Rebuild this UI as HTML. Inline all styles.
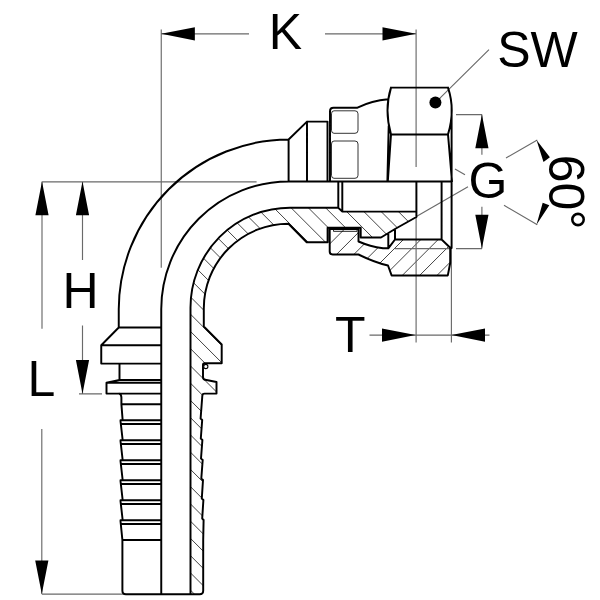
<!DOCTYPE html>
<html lang="en"><head><meta charset="utf-8"><title>Hose fitting drawing</title>
<style>html,body{margin:0;padding:0;background:#fff;width:600px;height:600px;overflow:hidden}</style>
</head><body>
<svg width="600" height="600" viewBox="0 0 600 600" style="display:block;position:absolute;left:0;top:0;will-change:transform">
<defs>
<clipPath id="cb"><path d="M190.5,594.2 V307.5 A99.5,99.8 0 0 1 290,207.7 H338.3 L342.3,211.6 H416.4 V217 L395,229 L381,237.5 H360.7 V227.8 H327.6 V242.2 H306.7 L288.5,223.7 A84.7,84.7 0 0 0 203.8,308.4 V326.5 L221.7,344.5 V363.3 H204.5 Q203,363.3 203,365 V377.3 Q203,380 206.5,380 L216.5,382 V393.6 H204.5 Q202.3,393.6 202.3,396 L200.6,418.5 L202.2,420 L200.8,438.5 L202.4,440 L201,458.5 L202.7,460 L201.3,478.5 L203,480 L201.8,498.5 L203.4,500 L202.2,518.5 L203.6,520 L203.2,540 V590.7 Q203.2,594.2 199.7,594.2 Z"/></clipPath>
<clipPath id="cn"><path d="M329.7,229 H358.5 V241.5 Q370,246.5 383,248.3 H388.3 L395,239.5 H441.6 L450.2,247.8 V263 L447.8,275.4 H391.6 L388,265.5 Q375,262.5 358.5,254.5 H332.7 Q329.7,254.5 329.7,251.5 Z"/></clipPath>
</defs>
<rect width="600" height="600" fill="#fff"/>
<path d="M150,-71.30 L460,238.70 M150,-54.05 L460,255.95 M150,-36.80 L460,273.20 M150,-19.55 L460,290.45 M150,-2.30 L460,307.70 M150,14.95 L460,324.95 M150,32.20 L460,342.20 M150,49.45 L460,359.45 M150,66.70 L460,376.70 M150,83.95 L460,393.95 M150,101.20 L460,411.20 M150,118.45 L460,428.45 M150,135.70 L460,445.70 M150,152.95 L460,462.95 M150,170.20 L460,480.20 M150,187.45 L460,497.45 M150,204.70 L460,514.70 M150,221.95 L460,531.95 M150,239.20 L460,549.20 M150,256.45 L460,566.45 M150,273.70 L460,583.70 M150,290.95 L460,600.95 M150,308.20 L460,618.20 M150,325.45 L460,635.45 M150,342.70 L460,652.70 M150,359.95 L460,669.95 M150,377.20 L460,687.20 M150,394.45 L460,704.45 M150,411.70 L460,721.70 M150,428.95 L460,738.95 M150,446.20 L460,756.20 M150,463.45 L460,773.45 M150,480.70 L460,790.70 M150,497.95 L460,807.95 M150,515.20 L460,825.20 M150,532.45 L460,842.45 M150,549.70 L460,859.70 M150,566.95 L460,876.95 M150,584.20 L460,894.20 M150,601.45 L460,911.45 M150,618.70 L460,928.70 M150,635.95 L460,945.95 M150,653.20 L460,963.20 M150,670.45 L460,980.45 M150,687.70 L460,997.70 M150,704.95 L460,1014.95 M150,722.20 L460,1032.20 M150,739.45 L460,1049.45 M150,756.70 L460,1066.70 M150,773.95 L460,1083.95" clip-path="url(#cb)" stroke="#222" stroke-width="0.85" fill="none"/>
<path d="M320,218.90 L460,78.90 M320,236.25 L460,96.25 M320,253.60 L460,113.60 M320,270.95 L460,130.95 M320,288.30 L460,148.30 M320,305.65 L460,165.65 M320,323.00 L460,183.00 M320,340.35 L460,200.35 M320,357.70 L460,217.70 M320,375.05 L460,235.05 M320,392.40 L460,252.40 M320,409.75 L460,269.75 M320,427.10 L460,287.10" clip-path="url(#cn)" stroke="#222" stroke-width="0.85" fill="none"/>
<path d="M161.25,29.5 V267.7 M416.1,29.5 V167 M161.25,33.8 H249 M325,33.8 H416.1 M42,181.9 H256.6 M42,181.6 V328.7 M41.8,429 V594.1 M41.8,594.1 H124 M82.5,181.6 V260 M82.5,325.5 V393.7 M79,393.9 H102 M416.1,217 V342.6 M451.4,248 V342.6 M369.5,335.1 H489.5 M456,114.6 H482 M394.7,248.6 H450 M456,248.6 H482 M481.9,114.6 V154.7 M481.9,206.7 V248.6 M455,169 L465,174.8 M468,186.7 L416.4,216.5 M435.4,102.6 L489,49.6 M506,158 L537.3,140 M504,205.3 L537.3,224.8" stroke="#6a6a6a" stroke-width="1.15" fill="none"/>
<path d="M161.25,33.80 L194.85,40.40 L194.85,27.20 Z M416.10,33.80 L382.50,27.20 L382.50,40.40 Z M42.00,181.60 L35.40,215.20 L48.60,215.20 Z M82.50,181.60 L75.90,215.20 L89.10,215.20 Z M82.50,393.70 L89.10,360.10 L75.90,360.10 Z M41.80,594.10 L48.40,560.50 L35.20,560.50 Z M415.60,335.10 L382.00,328.50 L382.00,341.70 Z M451.40,335.10 L485.00,341.70 L485.00,328.50 Z M481.90,114.60 L475.30,148.20 L488.50,148.20 Z M481.90,248.40 L488.50,214.80 L475.30,214.80 Z M536.5,140 L549.9,157.3 L543.5,161.9 Z M536.5,224.8 L549.3,205.3 L542.7,202.7 Z" fill="#000" stroke="none"/>
<path d="M118.75,327.5 V309 A170.25,170.25 0 0 1 288.6,139.5 V181.4 M161.25,594.2 V309 A127.75,127.75 0 0 1 289,181.4 H452 M190.5,594.2 V307.5 A99.5,99.8 0 0 1 290,207.7 H338.3 L342.3,211.6 H416.4 V217 L395,229 L381,237.5 H360.7 V227.8 H327.6 V242.2 H306.7 L288.5,223.7 A84.7,84.7 0 0 0 203.8,308.4 V326.5 L221.7,344.5 V363.3 H204.5 Q203,363.3 203,365 V377.3 Q203,380 206.5,380 L216.5,382 V393.6 H204.5 Q202.3,393.6 202.3,396 L200.6,418.5 L202.2,420 L200.8,438.5 L202.4,440 L201,458.5 L202.7,460 L201.3,478.5 L203,480 L201.8,498.5 L203.4,500 L202.2,518.5 L203.6,520 L203.2,540 V590.7 Q203.2,594.2 199.7,594.2 Z M118.75,327.5 H161.25 M118.75,327.5 L101.25,345.3 V363.6 H161.25 M101.25,345.3 H161.25 M119.5,363.6 V380 H161.25 M119.5,380 Q112,381.5 106.5,382.8 V393.6 H161.25 M106.5,382.8 H161.25 M119.2,393.6 Q121.4,394.5 121.4,397.5 V404.3 L122.6,419.5 L120.5,421 L122.6,439.5 L120.5,441 L122.6,459.5 L120.5,461 L122.6,479.5 L120.5,481 L122.6,499.5 L120.5,501 L122.6,519.5 L120.5,521 L122.4,540 V590.7 Q122.4,594.2 125.9,594.2 H199.7 M121.4,404.3 H161.25 M120.5,420.3 H161.25 M120.8,423.9 H161.25 M120.5,440.3 H161.25 M120.8,443.9 H161.25 M120.5,460.3 H161.25 M120.8,463.9 H161.25 M120.5,480.3 H161.25 M120.8,483.9 H161.25 M120.5,500.3 H161.25 M120.8,503.9 H161.25 M120.5,520.3 H161.25 M120.8,523.9 H161.25 M122.4,540 H161.25 M288.6,139.5 L307,121.6 V181.4 M307,121.6 H327.5 V181.4 M330,181.4 V111.2 Q330,107.7 333.5,107.7 H357.5 Q372,100.5 388,99.3 M391,87.6 H448 M391,134.4 H448 M391,87.6 Q384,110 391,134.4 L387.8,181.4 M388.7,126 L387.4,181.4 M448,87.6 Q455.5,110 448,134.4 L452,181.4 M451.6,106 V248 M329.7,229 H358.5 V241.5 Q370,246.5 383,248.3 H388.3 L395,239.5 H441.6 L450.2,247.8 V263 L447.8,275.4 H391.6 L388,265.5 Q375,262.5 358.5,254.5 H332.7 Q329.7,254.5 329.7,251.5 Z M338.3,181.4 V207.7 M342.3,181.4 V211.6 M416.4,181.4 V217 M441.6,181.4 V239.5 M388.3,233 V248.3 M395,229 V239.5" stroke="#000" stroke-width="1.95" fill="none" stroke-linejoin="round" stroke-linecap="round"/>
<path d="M334,110.8 H355 Q358,110.8 358,113.8 V130.3 Q358,133.3 355,133.3 H334 Q331.5,133.3 331.5,130.3 V113.8 Q331.5,110.8 334,110.8 Z M334,141 H355 Q358,141 358,144 V175.3 Q358,178.3 355,178.3 H334 Q331.5,178.3 331.5,175.3 V144 Q331.5,141 334,141 Z M333.5,229.6 H357 V231.4 H333.5 Z" stroke="#000" stroke-width="0.8" fill="none"/>
<circle cx="205.8" cy="366.5" r="2.1" stroke="#000" stroke-width="1.1" fill="#fff"/>
<circle cx="435.4" cy="102.6" r="6" fill="#000"/>
<text x="268.7" y="49.3" style="font-family:'Liberation Sans',Arial,sans-serif;font-size:50px;fill:#000">K</text>
<text x="497.2" y="66.7" style="font-family:'Liberation Sans',Arial,sans-serif;font-size:50px;fill:#000">SW</text>
<text x="468.5" y="198.2" style="font-family:'Liberation Sans',Arial,sans-serif;font-size:50px;fill:#000">G</text>
<text x="62.6" y="308.2" style="font-family:'Liberation Sans',Arial,sans-serif;font-size:50px;fill:#000">H</text>
<text x="27.5" y="395.6" style="font-family:'Liberation Sans',Arial,sans-serif;font-size:50px;fill:#000">L</text>
<text x="334.9" y="352.2" style="font-family:'Liberation Sans',Arial,sans-serif;font-size:50px;fill:#000">T</text>
<text transform="translate(548.5,154.8) rotate(90)" x="0" y="0" style="font-family:'Liberation Sans',Arial,sans-serif;font-size:50px;fill:#000">60<tspan dy="-1.5" dx="-0.9">°</tspan></text>
</svg>
</body></html>
